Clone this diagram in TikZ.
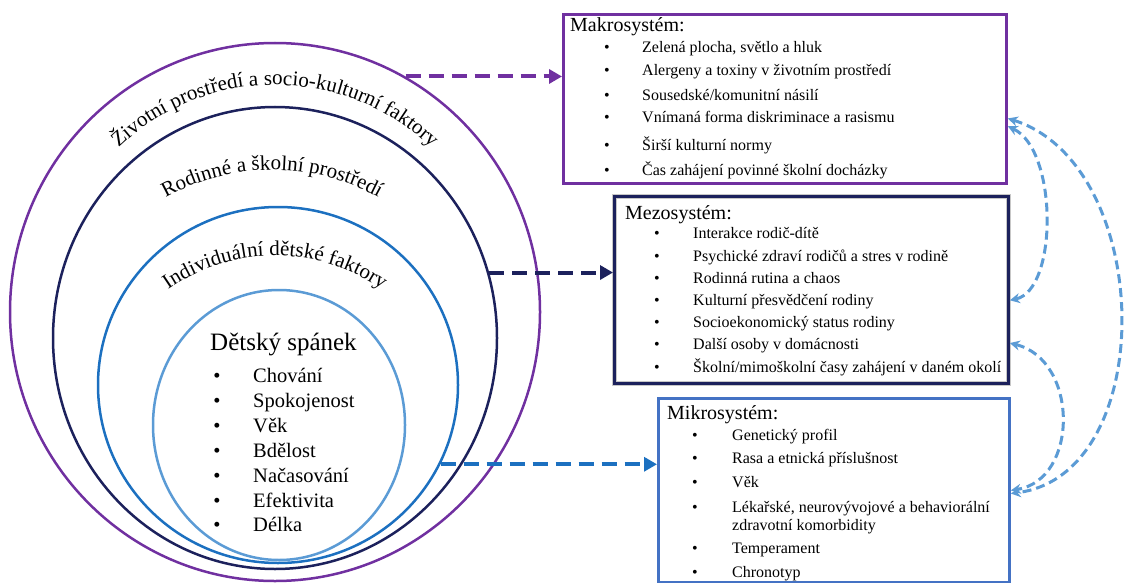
\documentclass[tikz,border=0pt]{standalone}
\usepackage{fontspec}
\setmainfont{Liberation Serif}
\usetikzlibrary{arrows.meta,shapes.geometric,decorations.text}
\definecolor{purpleC}{RGB}{112,48,160}
\definecolor{navyC}{RGB}{28,33,92}
\definecolor{blueC}{RGB}{28,112,192}
\definecolor{lightC}{RGB}{91,155,213}
\definecolor{mikroC}{RGB}{68,114,196}
\definecolor{curveC}{RGB}{91,155,213}
\begin{document}
\begin{tikzpicture}[x=1pt,y=-1pt,
  ring/.style={draw, ellipse, inner sep=0pt, line width=2.5pt},
  boxC/.style={draw, rectangle, inner sep=0pt, anchor=north west, line width=2.8pt},
  item/.style={anchor=base west, inner sep=0pt, font=\fontsize{16}{18}\selectfont},
  bul/.style={anchor=base, inner sep=0pt, font=\fontsize{16}{18}\selectfont},
  ttl/.style={anchor=base west, inner sep=0pt, font=\fontsize{20}{22}\selectfont},
  itemS/.style={anchor=base west, inner sep=0pt, font=\fontsize{20.5}{23}\selectfont},
  bulS/.style={anchor=base, inner sep=0pt, font=\fontsize{20.5}{23}\selectfont},
  bigarrow/.style={line width=4pt, dash pattern=on 15pt off 8pt, -{Triangle[length=13pt,width=14pt]}},
  link/.style={draw=curveC, line width=3pt, dash pattern=on 9pt off 5pt,
    {Stealth[length=10pt,width=10pt]}-{Stealth[length=10pt,width=10pt]}},
  arctext/.style={decorate, decoration={text along path, text align=center, text={#1}}}
]
\useasboundingbox (0,0) rectangle (1126,583);

% nested ellipses
\node[ring, draw=purpleC, minimum width=530pt, minimum height=538pt] (outer) at (275,312) {};
\node[ring, draw=navyC, minimum width=444pt, minimum height=462pt] (family) at (275,338) {};
\node[ring, draw=blueC, minimum width=360pt, minimum height=356pt] (indiv) at (278,385) {};
\node[ring, draw=lightC, minimum width=252pt, minimum height=270pt] (core) at (279,425) {};

% curved labels
\path[arctext={|\fontsize{21}{24}\selectfont|Životní prostředí a socio-kulturní faktory}]
  (275,311) ++(-160:226) arc[start angle=-160, end angle=-20, radius=226];
\path[arctext={|\fontsize{21}{24}\selectfont|Rodinné a školní prostředí}]
  (272,389) ++(-150:219) arc[start angle=-150, end angle=-30, radius=219];
\path[arctext={|\fontsize{21}{24}\selectfont|Individuální dětské faktory}]
  (275,443) ++(-150:187) arc[start angle=-150, end angle=-30, radius=187];

% core content
\node[anchor=base west, inner sep=0pt, font=\fontsize{25}{28}\selectfont] (sleep) at (210,350) {Dětský spánek};
\node[bulS] (sb1) at (217,382) {•}; \node[itemS] (si1) at (253,382) {Chování};
\node[bulS] (sb2) at (217,407) {•}; \node[itemS] (si2) at (253,407) {Spokojenost};
\node[bulS] (sb3) at (217,432) {•}; \node[itemS] (si3) at (253,432) {Věk};
\node[bulS] (sb4) at (217,457) {•}; \node[itemS] (si4) at (253,457) {Bdělost};
\node[bulS] (sb5) at (217,482) {•}; \node[itemS] (si5) at (253,482) {Načasování};
\node[bulS] (sb6) at (217,507) {•}; \node[itemS] (si6) at (253,507) {Efektivita};
\node[bulS] (sb7) at (217,531) {•}; \node[itemS] (si7) at (253,531) {Délka};

% boxes
\node[boxC, draw=purpleC, minimum width=443pt, minimum height=169pt] (makro) at (562,13) {};
\node[boxC, draw=navyC, minimum width=394pt, minimum height=187pt,
  preaction={draw=black!22, line width=5pt}] (meso) at (613,195) {};
\node[boxC, draw=mikroC, minimum width=351pt, minimum height=184pt] (mikro) at (657,397) {};

% Makrosystém
\node[ttl] (mat) at (570,32) {Makrosystém:};
\node[bul] (mb1) at (607,53) {•};  \node[item] (mi1) at (642,53) {Zelená plocha, světlo a hluk};
\node[bul] (mb2) at (607,76) {•};  \node[item] (mi2) at (642,76) {Alergeny a toxiny v životním prostředí};
\node[bul] (mb3) at (607,101) {•}; \node[item] (mi3) at (642,101) {Sousedské/komunitní násilí};
\node[bul] (mb4) at (607,123) {•}; \node[item] (mi4) at (642,123) {Vnímaná forma diskriminace a rasismu};
\node[bul] (mb5) at (607,150) {•}; \node[item] (mi5) at (642,150) {Širší kulturní normy};
\node[bul] (mb6) at (607,175) {•}; \node[item] (mi6) at (642,175) {Čas zahájení povinné školní docházky};

% Mezosystém
\node[ttl] (met) at (625,219) {Mezosystém:};
\node[bul] (eb1) at (657,238) {•}; \node[item] (ei1) at (693,238) {Interakce rodič-dítě};
\node[bul] (eb2) at (657,261) {•}; \node[item] (ei2) at (693,261) {Psychické zdraví rodičů a stres v rodině};
\node[bul] (eb3) at (657,283) {•}; \node[item] (ei3) at (693,283) {Rodinná rutina a chaos};
\node[bul] (eb4) at (657,305) {•}; \node[item] (ei4) at (693,305) {Kulturní přesvědčení rodiny};
\node[bul] (eb5) at (657,327) {•}; \node[item] (ei5) at (693,327) {Socioekonomický status rodiny};
\node[bul] (eb6) at (657,349) {•}; \node[item] (ei6) at (693,349) {Další osoby v domácnosti};
\node[bul] (eb7) at (657,372) {•}; \node[item] (ei7) at (693,372) {Školní/mimoškolní časy zahájení v daném okolí};

% Mikrosystém
\node[ttl] (mit) at (667,419) {Mikrosystém:};
\node[bul] (ib1) at (695,440) {•}; \node[item] (ii1) at (732,440) {Genetický profil};
\node[bul] (ib2) at (695,463) {•}; \node[item] (ii2) at (732,463) {Rasa a etnická příslušnost};
\node[bul] (ib3) at (695,487) {•}; \node[item] (ii3) at (732,487) {Věk};
\node[bul] (ib4) at (695,512) {•}; \node[item] (ii4) at (732,512) {Lékařské, neurovývojové a behaviorální};
\node[item] (ii4b) at (732,530) {zdravotní komorbidity};
\node[bul] (ib5) at (695,553) {•}; \node[item] (ii5) at (732,553) {Temperament};
\node[bul] (ib6) at (695,577) {•}; \node[item] (ii6) at (732,577) {Chronotyp};

% straight dashed arrows
\draw[bigarrow, color=purpleC] (outer.61.7) -- (outer.61.7 -| makro.west);
\draw[bigarrow, color=navyC] (family.17.2) -- (family.17.2 -| meso.west);
\draw[bigarrow, color=blueC] (indiv.-26.4) -- (indiv.-26.4 -| mikro.west);

% curved links
\draw[link] (makro.-5) .. controls (1155,165) and (1160,475) .. (mikro.-1.5);
\draw[link] (makro.-7.6) .. controls (1058,150) and (1058,290) .. (meso.-3.9);
\draw[link] (meso.-15.5) .. controls (1079,360) and (1079,480) .. (mikro.-0.5);
\end{tikzpicture}
\end{document}
